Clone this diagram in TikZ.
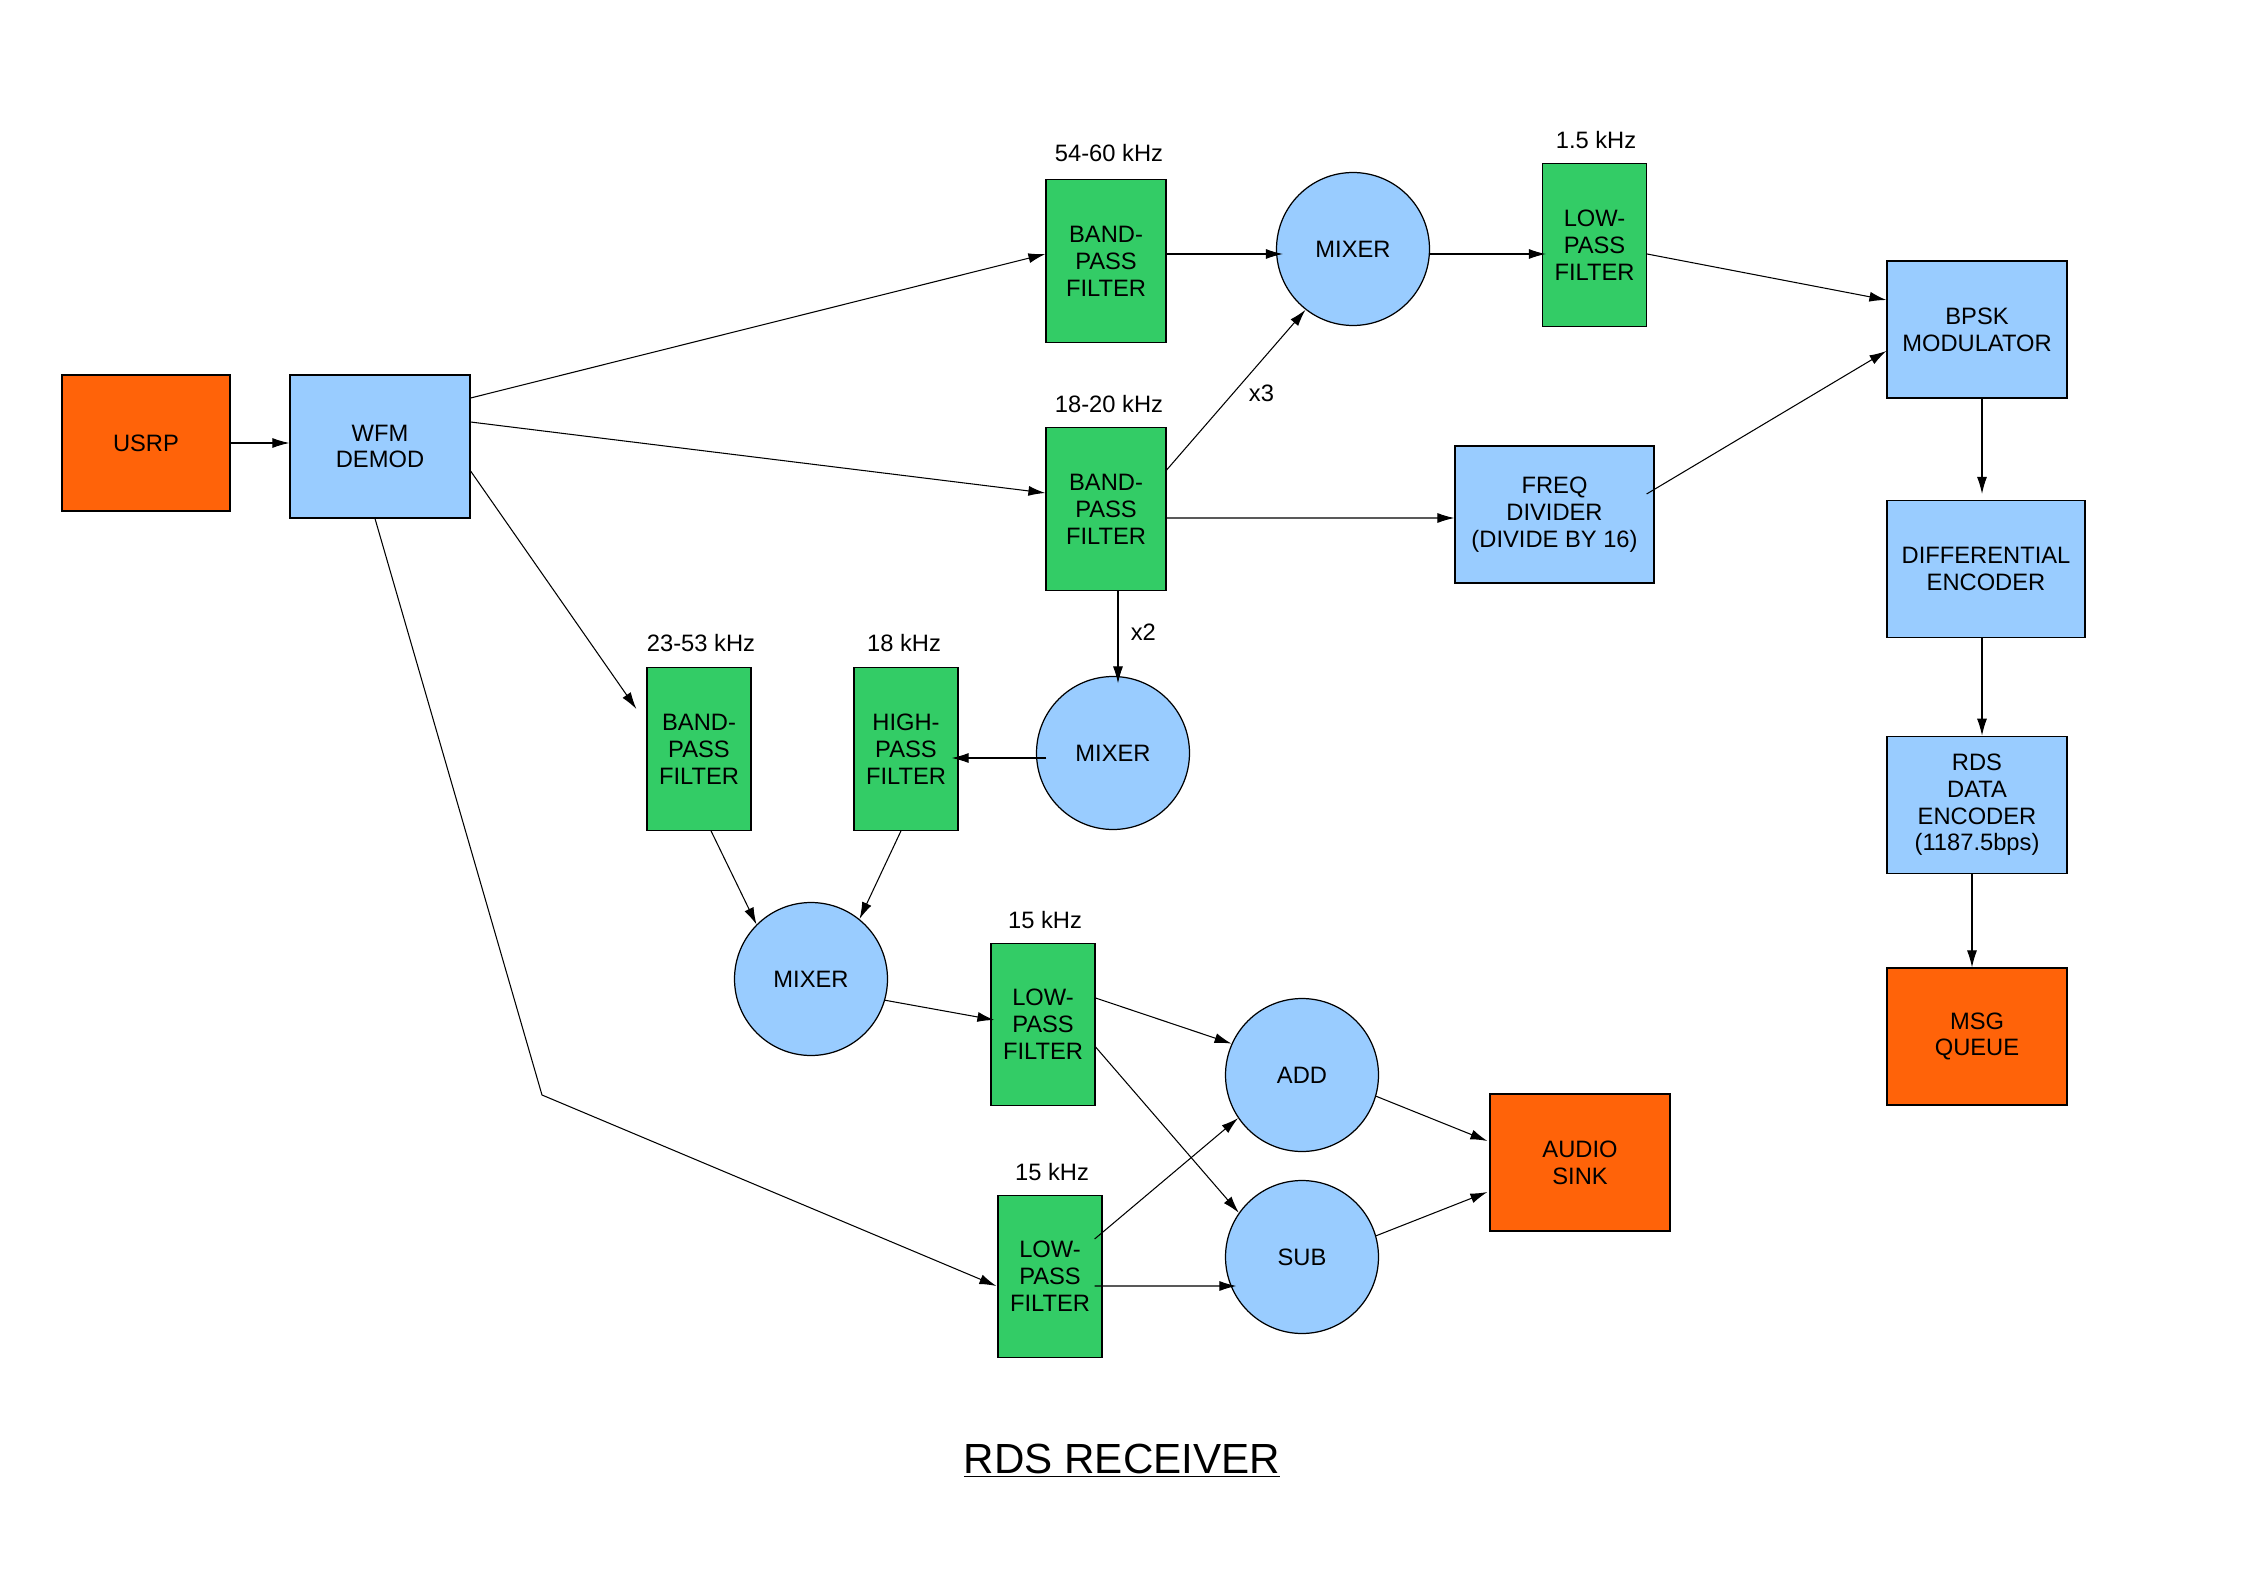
\documentclass[tikz,border=0pt]{standalone}
\usepackage{fontspec}
\setmainfont{Liberation Sans}
\usetikzlibrary{arrows.meta,calc}

\begin{document}
\begin{tikzpicture}[x=0.02cm,y=-0.02cm,line width=0.6pt]
\definecolor{source}{HTML}{FF6309}
\definecolor{process}{HTML}{99CCFF}
\definecolor{filter}{HTML}{33CC66}
\tikzset{block/.style={draw,line width=0.7pt,inner sep=0pt,align=center,
    font=\fontsize{13.5}{15.3}\selectfont},
  src/.style={block,fill=source,minimum width=3.6cm,minimum height=2.74cm},
  proc/.style={block,fill=process,minimum width=3.6cm,minimum height=2.74cm},
  filt/.style={block,fill=filter,minimum width=2.08cm,minimum height=3.25cm},
  mix/.style={block,circle,fill=process,minimum size=3.06cm},
  band/.style={font=\fontsize{13.5}{15.3}\selectfont,inner sep=2pt},
  link/.style={-{Latex[length=0.34cm,width=0.2cm]}}}
\useasboundingbox (0,0) rectangle (2245,1588);

% blocks
\node[src,minimum width=3.36cm,minimum height=2.72cm] (usrp) at (146,443) {USRP};
\node[proc,minimum height=2.86cm] (wfm) at (380,446.5) {WFM\\DEMOD};
\node[filt,minimum width=2.4cm] (bpf1) at (1106,261) {BAND-\\PASS\\FILTER};
\node[filt,minimum width=2.4cm] (bpf2) at (1106,509) {BAND-\\PASS\\FILTER};
\node[mix] (mix1) at (1353,249) {MIXER};
\node[filt] (lpf1) at (1594.5,245) {LOW-\\PASS\\FILTER};
\node[proc,minimum width=3.98cm] (freq) at (1554.5,514.5) {FREQ\\DIVIDER\\(DIVIDE BY 16)};
\node[proc] (bpsk) at (1977,329.5) {BPSK\\MODULATOR};
\node[proc,minimum width=3.96cm] (diff) at (1986,569) {DIFFERENTIAL\\ENCODER};
\node[proc,yshift=-1pt] (rds) at (1977,803) {RDS\\DATA\\ENCODER\\(1187.5bps)};
\node[src] (msg) at (1977,1036.5) {MSG\\QUEUE};
\node[mix] (mix2) at (1113,753) {MIXER};
\node[filt] (hpf) at (906,749) {HIGH-\\PASS\\FILTER};
\node[filt] (bpf3) at (699,749) {BAND-\\PASS\\FILTER};
\node[mix] (mix3) at (811,979) {MIXER};
\node[filt] (lpf2) at (1043,1024.5) {LOW-\\PASS\\FILTER};
\node[filt] (lpf3) at (1050,1276.5) {LOW-\\PASS\\FILTER};
\node[mix] (add) at (1302,1075) {ADD};
\node[mix] (sub) at (1302,1257) {SUB};
\node[src] (audio) at (1580,1162.5) {AUDIO\\SINK};

% pass bands
\node[band] (f1) at (1109,153) {54-60 kHz};
\node[band] (f2) at (1109,404) {18-20 kHz};
\node[band] (f3) at (1596,140) {1.5 kHz};
\node[band] (f4) at (701,643) {23-53 kHz};
\node[band] (f5) at (904,643) {18 kHz};
\node[band] (f6) at (1045,920) {15 kHz};
\node[band] (f7) at (1052,1172) {15 kHz};

% connectors
\coordinate (bend) at (542,1095);
\draw[link] (usrp.east) -- (usrp.east -| wfm.west);
\draw[link] ($(wfm.east)+(0,-48.5)$) -- ($(bpf1.west)+(0,-7)$);
\draw[link] ($(wfm.east)+(0,-24.5)$) -- ($(bpf2.west)+(0,-16)$);
\draw[link] ($(wfm.east)+(0,24.5)$) -- ($(bpf3.west)+(-10,-40)$);
\draw[link] ($(wfm.south)+(-5,0)$) -- (bend) -- ($(lpf3.west)+(-1,9.5)$);
\draw[link] ($(bpf1.east)+(0,-7)$) -- ($(mix1.west)+(7,5)$);
\draw[link] ($(mix1.east)+(0,5)$) -- ($(lpf1.west)+(4,9)$);
\draw[link] ($(lpf1.east)+(0,9)$) -- ($(bpsk.west)+(0,-29.5)$);
\draw[link] ($(bpf2.east)+(0,-39)$) -- (mix1.232) node[band,midway,right,xshift=5pt,yshift=-2pt]{x3};
\draw[link] ($(bpf2.east)+(0,9)$) -- ($(freq.west)+(0,3.5)$);
\draw[link] ($(freq.east)+(-8,-20.5)$) -- ($(bpsk.west)+(0,21.5)$);
\draw[link] ($(bpf2.south)+(12,0)$) -- ($(mix2.north)+(5,7.5)$) node[band,midway,right,xshift=5pt,yshift=3pt]{x2};
\draw[link] ($(mix2.west)+(10.5,5)$) -- ($(hpf.east)+(-7,9)$);
\draw[link] ($(bpf3.south)+(12,0)$) -- (mix3.135);
\draw[link] ($(hpf.south)+(-5,0)$) -- (mix3.51);
\draw[link] (mix3.-16) -- ($(lpf2.west)+(4,-4.5)$);
\draw[link] ($(lpf2.east)+(0,-26.5)$) -- (add.156);
\draw[link] ($(lpf2.east)+(0,22.5)$) -- (sub.145);
\draw[link] ($(lpf3.east)+(-8,-37.5)$) -- (add.214);
\draw[link] ($(lpf3.east)+(-8,9.5)$) -- ($(sub.west)+(11.5,29)$);
\draw[link] (add.-16) -- ($(audio.west)+(-2,-21.5)$);
\draw[link] (sub.16) -- ($(audio.west)+(-2,29.5)$);
\draw[link] ($(bpsk.south)+(5,0)$) -- ($(diff.north)+(-4,-6)$);
\draw[link] ($(diff.south)+(-4,0)$) -- ($(rds.north)+(5,0)$);
\draw[link] ($(rds.south)+(-5,0)$) -- ($(msg.north)+(-5,0)$);

\node[anchor=base] (title) at (1122,1473) {\fontsize{24}{28}\selectfont\underline{RDS RECEIVER}};
\end{tikzpicture}
\end{document}
